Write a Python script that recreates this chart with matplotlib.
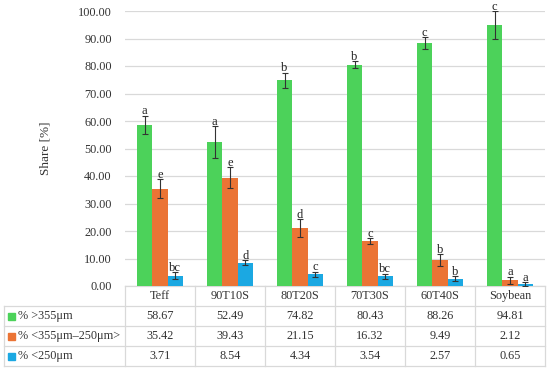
import numpy as np
import matplotlib.pyplot as plt
from matplotlib.patches import Rectangle
from matplotlib.transforms import blended_transform_factory

# Data
categories = ["Teff", "90T10S", "80T20S", "70T30S", "60T40S", "Soybean"]
series_names = ["% >355\u03bcm", "% <355\u03bcm\u2013250\u03bcm>", "% <250\u03bcm"]
coarse = [58.67, 52.49, 74.82, 80.43, 88.26, 94.81]
medium = [35.42, 39.43, 21.15, 16.32, 9.49, 2.12]
fine = [3.71, 8.54, 4.34, 3.54, 2.57, 0.65]
coarse_err = [3.3, 5.8, 2.8, 1.3, 2.2, 5.1]
medium_err = [3.4, 3.8, 3.3, 1.0, 2.1, 1.3]
fine_err = [1.2, 1.0, 0.9, 1.0, 0.9, 0.8]
coarse_letters = ["a", "a", "b", "b", "c", "c"]
medium_letters = ["e", "e", "d", "c", "b", "a"]
fine_letters = ["bc", "d", "c", "bc", "b", "a"]
yticks = np.arange(0, 101, 10)

colors = ["#4CD25A", "#EB7435", "#1BA8E2"]
grid_col = "#D9D9D9"
fs = 8.8

plt.rcParams['font.family'] = ['Liberation Serif', 'DejaVu Serif']

fig = plt.figure(figsize=(5.5, 3.72), dpi=100)
ax = fig.add_axes([125 / 550, 86 / 372, 420 / 550, 275 / 372])

x = np.arange(len(categories))
w = 0.22
all_vals = [coarse, medium, fine]
all_errs = [coarse_err, medium_err, fine_err]
all_letters = [coarse_letters, medium_letters, fine_letters]

for i, (vals, errs, letters) in enumerate(zip(all_vals, all_errs, all_letters)):
    pos = x + (i - 1) * w
    ax.bar(pos, vals, width=w, color=colors[i], zorder=3)
    ax.errorbar(pos, vals, yerr=errs, fmt='none', ecolor='#333333',
                elinewidth=0.8, capsize=2.5, capthick=0.8, zorder=4)
    for p, v, e, t in zip(pos, vals, errs, letters):
        ax.text(p, v + e + 0.4, t, ha='center', va='baseline', fontsize=9,
                color='#222222', clip_on=False, zorder=5)

ax.set_xlim(-0.5, len(categories) - 0.5)
ax.set_ylim(0, 100)
ax.set_yticks(yticks)
ax.set_yticklabels([f"{v:.2f}" for v in yticks], fontsize=fs, color='#333333')
ax.tick_params(axis='y', length=0, pad=9.5)
ax.set_xticks([])
ax.yaxis.grid(True, color=grid_col, linewidth=0.9, zorder=0)
for s in ax.spines.values():
    s.set_visible(False)
ax.text(-0.19, 0.5, "Share [%]", transform=ax.transAxes, rotation=90,
        ha='center', va='center', fontsize=9.5, color='#333333')

# Data table below the plot
tr = blended_transform_factory(ax.transData, ax.transAxes)
row_h = 20 / 275
left = -0.5 - 121 / 70  # table left edge in data units
right = len(categories) - 0.5
line_kw = dict(color=grid_col, linewidth=0.9, transform=tr, clip_on=False)

# horizontal lines
ax.plot([-0.5, right], [0, 0], **line_kw)
for r in range(1, 5):
    ax.plot([left, right], [-r * row_h, -r * row_h], **line_kw)
# vertical lines
ax.plot([left, left], [-row_h, -4 * row_h], **line_kw)
for c in range(len(categories) + 1):
    xc = c - 0.5
    ax.plot([xc, xc], [0, -4 * row_h], **line_kw)

for j, cat in enumerate(categories):
    ax.text(j, -0.5 * row_h, cat, transform=tr, ha='center', va='center',
            fontsize=fs, color='#333333')
for r, (name, vals) in enumerate(zip(series_names, all_vals)):
    yc = -(r + 1.5) * row_h
    ax.add_patch(Rectangle((left + 4 / 70, yc - 3.5 / 275), 7 / 70, 7 / 275,
                           transform=tr, color=colors[r], clip_on=False))
    ax.text(left + 14 / 70, yc, name, transform=tr, ha='left', va='center',
            fontsize=fs, color='#333333')
    for j, v in enumerate(vals):
        ax.text(j, yc, f"{v:.2f}", transform=tr, ha='center', va='center',
                fontsize=fs, color='#333333')

fig.savefig("out.png", dpi=100)
